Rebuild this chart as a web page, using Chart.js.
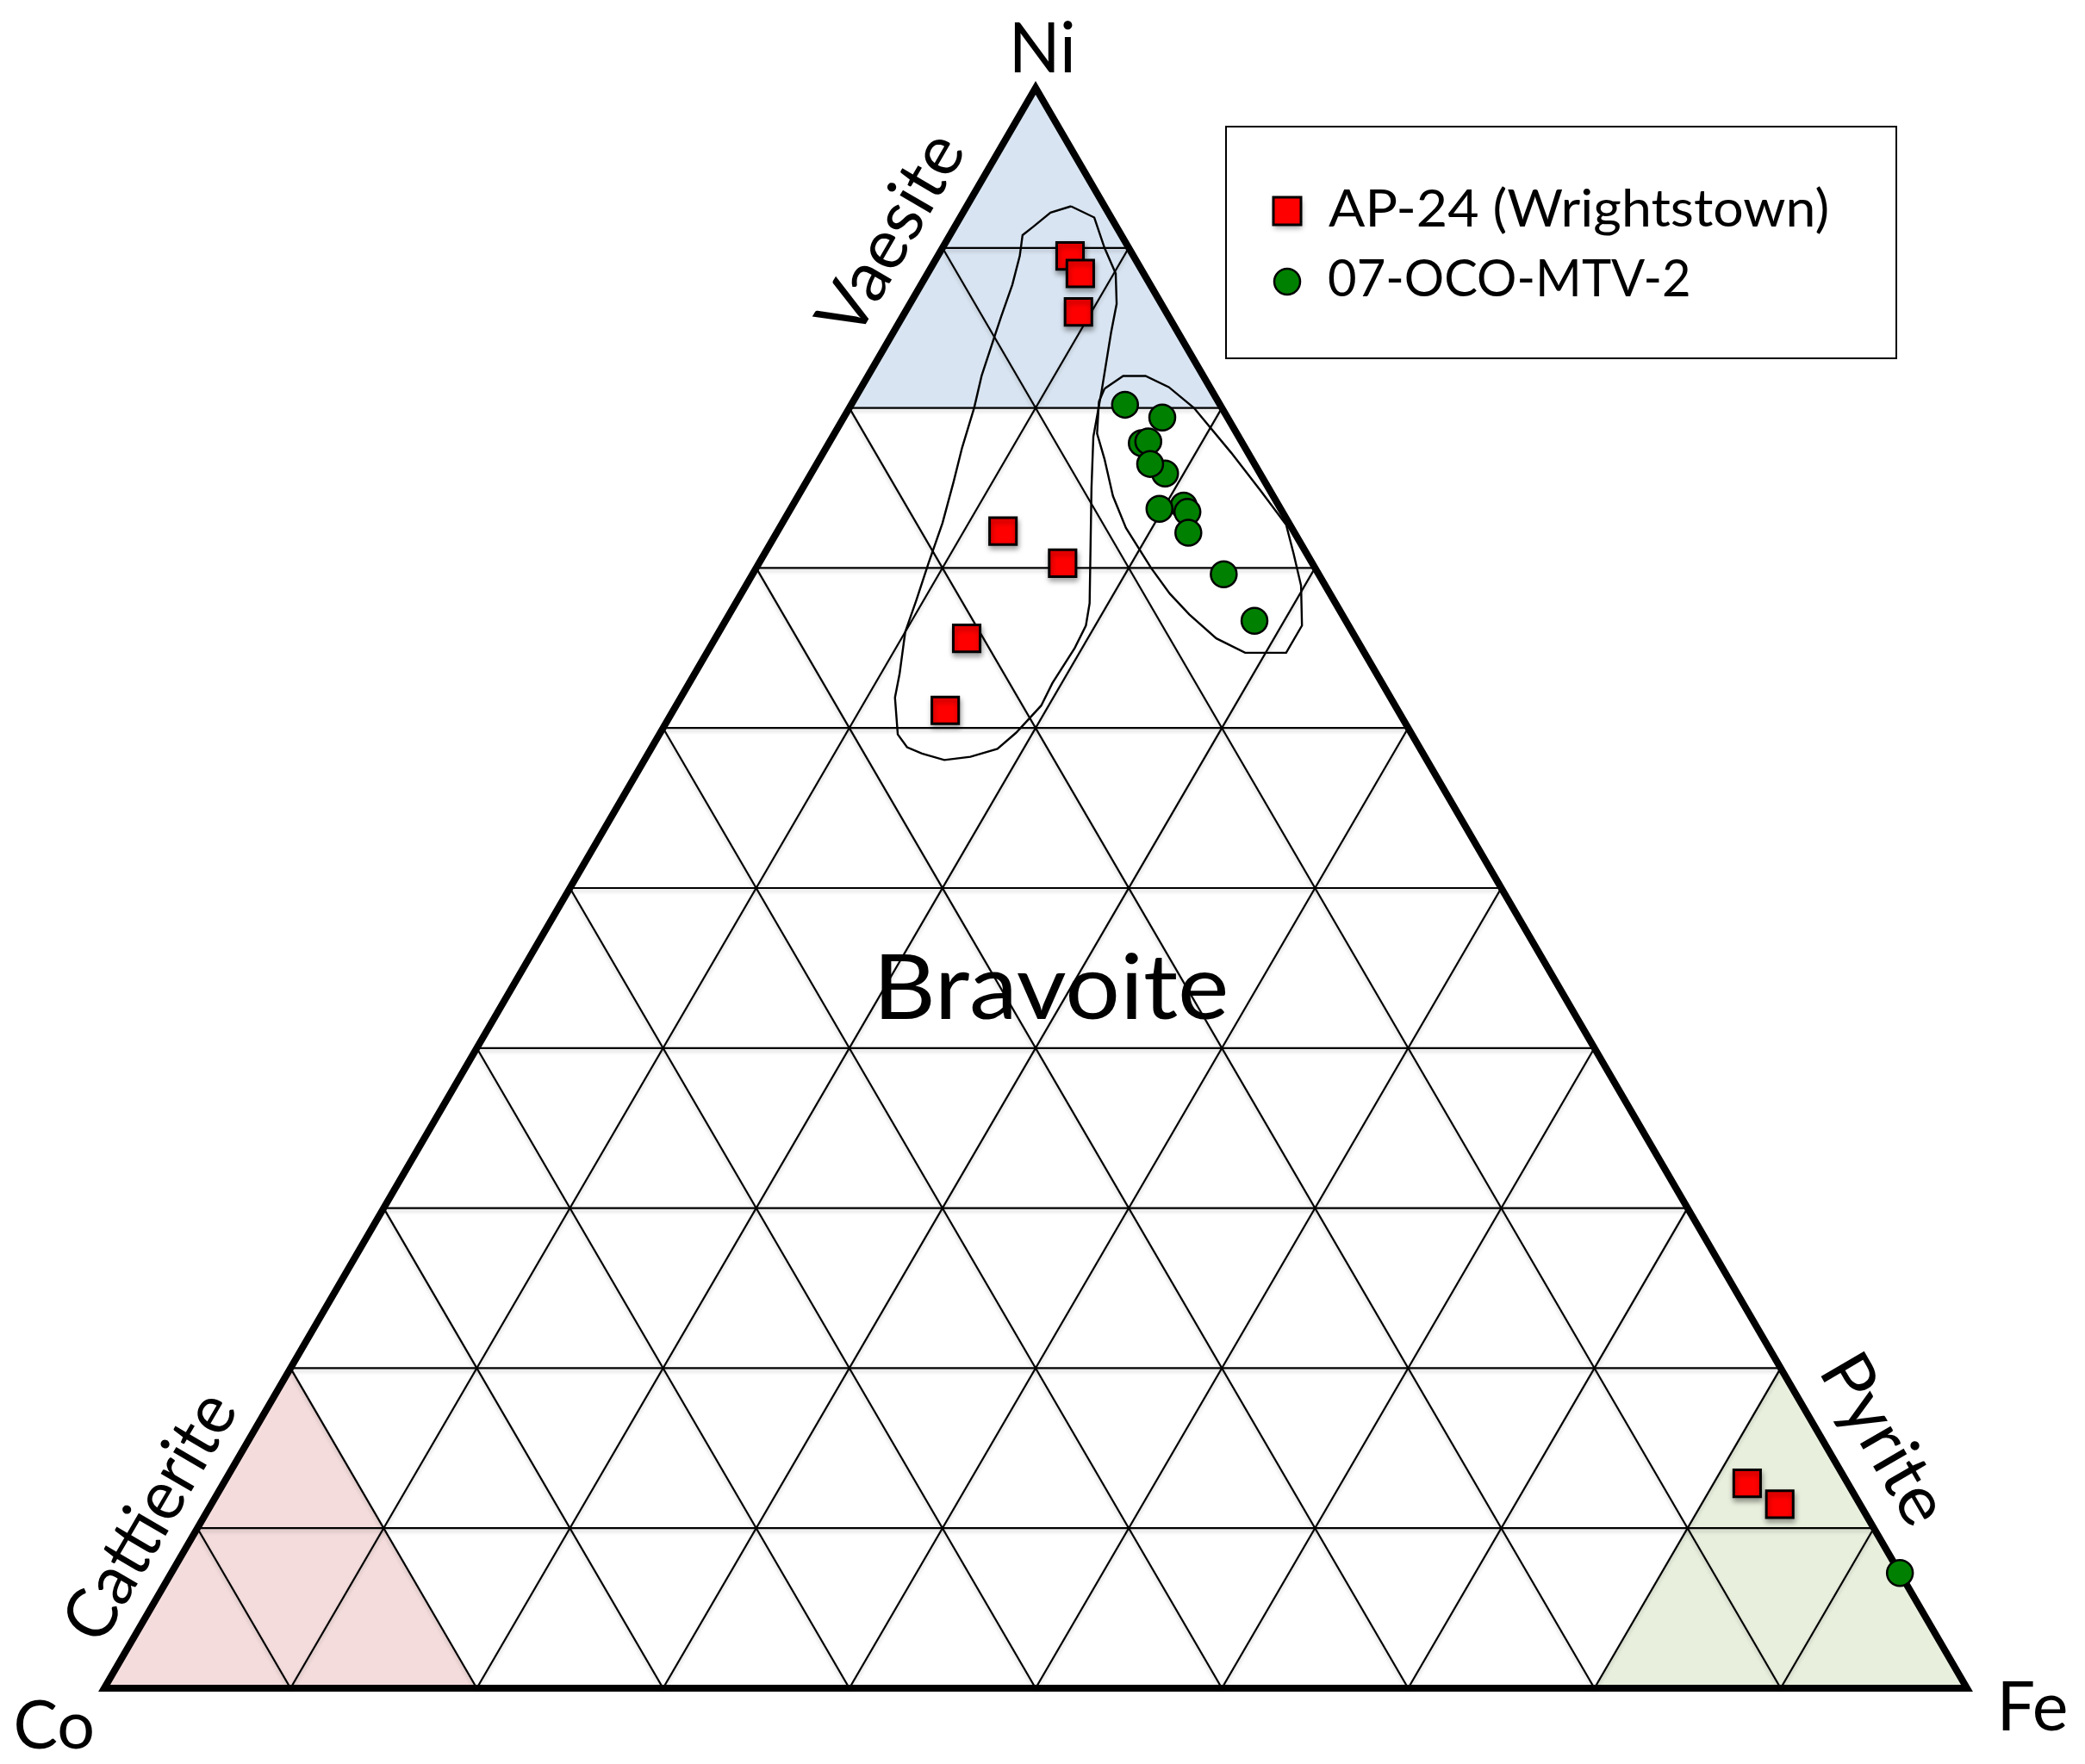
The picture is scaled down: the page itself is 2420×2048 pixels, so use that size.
<!DOCTYPE html>
<html>
<head>
<meta charset="utf-8">
<script src="https://cdn.jsdelivr.net/npm/chart.js@4.4.0/dist/chart.umd.min.js"></script>
<style>
  html, body { margin:0; padding:0; background:#fff; }
  #wrap { position:relative; width:2420px; height:2048px; }
</style>
</head>
<body>
<div id="wrap"><canvas id="chart-tern"></canvas></div>
<script>
// ══════════════════════════════════════════════
//  Ni–Co–Fe ternary (values in %, Co = 100 - Ni - Fe)
// ══════════════════════════════════════════════
var gridSteps = [10, 20, 30, 40, 50, 60, 70, 80, 90];
var fieldMin  = 80;   // end-member fields: > 80 %
var apexLabels  = ['Ni', 'Co', 'Fe'];
var fieldLabels = ['Vaesite', 'Cattierite', 'Pyrite', 'Bravoite'];
var seriesNames = ['AP-24 (Wrightstown)', '07-OCO-MTV-2'];

// AP-24 (Wrightstown) – red squares
var apNi = [89.5, 88.4, 86.0, 72.3, 70.3, 65.6, 61.1, 12.8, 11.5];
var apFe = [ 7.1,  8.2,  9.3, 12.1, 16.3, 13.5, 14.6, 81.8, 84.2];

// 07-OCO-MTV-2 – green circles
var mtvNi = [80.2, 79.4, 77.8, 77.9, 75.9, 76.5, 73.9, 73.7, 73.5, 72.2, 69.6, 66.7,  7.2];
var mtvFe = [14.7, 17.1, 16.8, 17.1, 19.0, 17.9, 21.0, 19.8, 21.4, 22.1, 25.3, 28.4, 92.8];

// hand-drawn outlines around each group
var apEnvNi = [92.6, 91.9, 90.0, 88.4, 86.5, 84.7, 81.1, 78.2, 75.0, 67.8, 66.4, 65.0, 62.8, 61.4, 59.7, 58.7, 58.2, 58.0, 58.4,
               58.8, 59.6, 61.9, 63.4, 66.0, 68.0, 70.3, 72.8, 75.4, 77.5, 80.0, 82.0, 84.3, 85.7, 87.7, 89.5, 90.8, 91.3, 92.2];
var apEnvFe = [ 5.6,  7.2,  8.7, 10.1, 11.1, 11.7, 13.0, 14.0, 15.5, 19.0, 19.5, 19.6, 19.5, 19.6, 19.1, 18.6, 17.4, 16.1, 14.7,
               13.7, 12.8, 11.5, 11.0, 10.0,  9.6,  9.1,  8.6,  7.9,  7.3,  6.7,  6.1,  5.6,  5.3,  4.9,  4.4,  3.9,  4.2,  4.7];

var mtvEnvNi = [81.2, 82.0, 82.0, 81.3, 80.0, 77.2, 74.8, 72.7, 70.9, 68.9, 66.4, 64.7, 64.7, 65.6, 67.1, 68.4, 70.0, 72.5, 74.5, 76.8, 78.4, 80.4];
var mtvEnvFe = [13.1, 13.7, 14.9, 16.5, 18.5, 21.9, 24.7, 27.1, 28.4, 29.8, 31.1, 31.1, 28.9, 26.9, 24.7, 23.0, 21.2, 18.6, 16.9, 15.3, 14.1, 13.2];

// ── helpers ──
function tern(ni, fe) { return { x: (fe + ni / 2) / 100, y: ni / 100 }; }
function pts(niArr, feArr, close) {
  var out = niArr.map(function(n, i){ return tern(n, feArr[i]); });
  if (close) out.push(out[0]);
  return out;
}
function lineDs(data, width, order, extra) {
  var d = { data: data, showLine: true, borderColor: '#000', borderWidth: width, pointRadius: 0,
            tension: 0, fill: false, order: order, borderJoinStyle: 'miter' };
  for (var k in extra) d[k] = extra[k];
  return d;
}

var datasets = [];

// ── POINTS ──
datasets.push({ label: seriesNames[0], data: pts(apNi, apFe), pointStyle: 'rect', pointRadius: 22,
  backgroundColor: '#ff0000', borderColor: '#000', borderWidth: 3, order: 0,
  shadow: { color: 'rgba(0,0,0,0.35)', blur: 6, dx: 1, dy: 4 } });
datasets.push({ label: seriesNames[1], data: pts(mtvNi, mtvFe), pointStyle: 'circle', pointRadius: 15,
  backgroundColor: '#008000', borderColor: '#000', borderWidth: 2.5, order: 0 });

// ── OUTLINES ──
datasets.push(lineDs(pts(apEnvNi, apEnvFe, true), 2.4, 1));
datasets.push(lineDs(pts(mtvEnvNi, mtvEnvFe, true), 2.4, 1));

// ── TRIANGLE FRAME ──
datasets.push(lineDs([tern(0,0), tern(0,100), tern(100,0), tern(0,0), tern(0,100)], 8, 2));

// ── GRID ──
var gridShadow = { color: 'rgba(0,0,0,0.18)', blur: 4, dx: 0, dy: 3 };
gridSteps.forEach(function(s) {
  datasets.push(lineDs([tern(s, 0), tern(s, 100 - s)], 2.2, 3, { shadow: gridShadow }));        // Ni = s
  datasets.push(lineDs([tern(0, s), tern(100 - s, s)], 2.2, 3, { shadow: gridShadow }));        // Fe = s
  datasets.push(lineDs([tern(100 - s, 0), tern(0, 100 - s)], 2.2, 3, { shadow: gridShadow }));  // Co = s
});

// ── MINERAL FIELDS ──
var lo = 100 - fieldMin;
datasets.push(lineDs([tern(100,0), tern(fieldMin,0), tern(fieldMin,lo), tern(100,0)], 0, 4, { fill: 'shape', backgroundColor: '#d8e4f1' }));
datasets.push(lineDs([tern(0,0), tern(0,lo), tern(lo,0), tern(0,0)], 0, 4, { fill: 'shape', backgroundColor: '#f4dcdc' }));
datasets.push(lineDs([tern(0,100), tern(0,fieldMin), tern(lo,fieldMin), tern(0,100)], 0, 4, { fill: 'shape', backgroundColor: '#e8efdd' }));

// ── PLUGINS ──
var shadowPlugin = {
  id: 'shadows',
  beforeDatasetDraw: function(chart, args) {
    var s = chart.data.datasets[args.index].shadow;
    if (!s) return;
    var ctx = chart.ctx; ctx.save();
    ctx.shadowColor = s.color; ctx.shadowBlur = s.blur; ctx.shadowOffsetX = s.dx; ctx.shadowOffsetY = s.dy;
  },
  afterDatasetDraw: function(chart, args) {
    if (chart.data.datasets[args.index].shadow) chart.ctx.restore();
  }
};

var FONT = 'Lato, "Open Sans", sans-serif';
// draw text with its ink box centred on (cx, cy), cap height cap, ink width inkW
function inkText(ctx, text, cx, cy, cap, inkW, angle) {
  ctx.save();
  ctx.font = (cap / 0.7165) + 'px ' + FONT;
  ctx.textAlign = 'left'; ctx.textBaseline = 'alphabetic'; ctx.fillStyle = '#000';
  var m = ctx.measureText(text);
  var w = m.actualBoundingBoxLeft + m.actualBoundingBoxRight;
  ctx.translate(cx, cy); ctx.rotate(angle || 0); ctx.scale(inkW / w, 1);
  ctx.fillText(text, (m.actualBoundingBoxLeft - m.actualBoundingBoxRight) / 2,
                     (m.actualBoundingBoxAscent - m.actualBoundingBoxDescent) / 2);
  ctx.restore();
}
function leftText(ctx, text, left, base, cap, inkW) {
  ctx.save();
  ctx.font = (cap / 0.7165) + 'px ' + FONT;
  ctx.textAlign = 'left'; ctx.textBaseline = 'alphabetic'; ctx.fillStyle = '#000';
  var m = ctx.measureText(text);
  var w = m.actualBoundingBoxLeft + m.actualBoundingBoxRight;
  ctx.translate(left, base); ctx.scale(inkW / w, 1);
  ctx.fillText(text, m.actualBoundingBoxLeft, 0);
  ctx.restore();
}

var labelPlugin = {
  id: 'ternLabels',
  afterDatasetsDraw: function(chart) {
    var ctx = chart.ctx, xs = chart.scales.x, ys = chart.scales.y;
    function px(ni, fe) { var p = tern(ni, fe); return { x: xs.getPixelForValue(p.x), y: ys.getPixelForValue(p.y) }; }
    var pNi = px(100, 0), pCo = px(0, 0), pFe = px(0, 100);
    function along(p0, p1, a, b, outSign) {
      var dx = p1.x - p0.x, dy = p1.y - p0.y, L = Math.hypot(dx, dy);
      var ux = dx / L, uy = dy / L, nx = outSign * uy, ny = -outSign * ux;
      return { x: p0.x + ux * a + nx * b, y: p0.y + uy * a + ny * b };
    }
    var leftAng = Math.atan2(pNi.y - pCo.y, pNi.x - pCo.x);
    var rightAng = Math.atan2(pFe.y - pNi.y, pFe.x - pNi.x);

    // apex labels
    inkText(ctx, apexLabels[0], pNi.x + 9, pNi.y - 48, 58, 67);
    inkText(ctx, apexLabels[1], pCo.x - 58, pCo.y + 42, 55, 89);
    inkText(ctx, apexLabels[2], pFe.x + 78, pFe.y + 21, 57, 73);

    // field labels
    var v = along(pCo, pNi, 1917, 62, 1);
    inkText(ctx, fieldLabels[0], v.x, v.y, 58, 255, leftAng);
    var c = along(pCo, pNi, 199, 57, 1);
    inkText(ctx, fieldLabels[1], c.x, c.y, 58, 314, leftAng);
    var p = along(pFe, pNi, 296, 58, -1);
    inkText(ctx, fieldLabels[2], p.x, p.y, 58, 205, rightAng);
    inkText(ctx, fieldLabels[3], 1223, 1145, 75, 400);

    // legend
    ctx.save();
    ctx.fillStyle = '#fff'; ctx.fillRect(1423, 147, 778, 269);
    ctx.strokeStyle = '#000'; ctx.lineWidth = 2; ctx.strokeRect(1423, 147, 778, 269);
    ctx.shadowColor = 'rgba(0,0,0,0.35)'; ctx.shadowBlur = 6; ctx.shadowOffsetX = 1; ctx.shadowOffsetY = 4;
    ctx.fillStyle = '#ff0000'; ctx.fillRect(1478, 229, 32, 32);
    ctx.shadowColor = 'transparent';
    ctx.lineWidth = 3; ctx.strokeRect(1478, 229, 32, 32);
    ctx.beginPath(); ctx.arc(1494, 327, 15, 0, Math.PI * 2);
    ctx.fillStyle = '#008000'; ctx.fill(); ctx.lineWidth = 2.5; ctx.stroke();
    ctx.restore();
    leftText(ctx, seriesNames[0], 1542, 263, 43, 579);
    leftText(ctx, seriesNames[1], 1542, 344, 43, 418);
  }
};

var ternChart = new Chart(document.getElementById('chart-tern').getContext('2d'), {
  type: 'scatter',
  data: { datasets: datasets },
  options: {
    responsive: true, maintainAspectRatio: false, animation: false, events: [],
    layout: { padding: 0, autoPadding: false },
    plugins: { legend: { display: false }, tooltip: { enabled: false } },
    scales: {
      x: { type: 'linear', display: false, min: -121 / 2162, max: (2420 - 121) / 2162 },
      y: { type: 'linear', display: false, min: -88 / 1858, max: 1960 / 1858 }
    }
  },
  plugins: [shadowPlugin, labelPlugin]
});
</script>
</body>
</html>
